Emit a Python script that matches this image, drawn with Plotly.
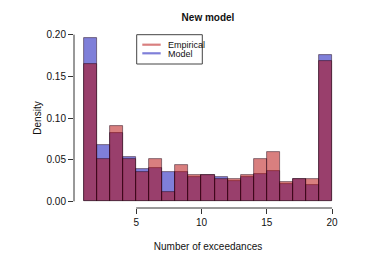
import plotly.graph_objects as go

# ---- data ----
breaks = list(range(1, 21))  # bin edges 1..20
empirical = [0.1645, 0.0507, 0.0902, 0.0507, 0.0355, 0.0511, 0.0116, 0.0431, 0.0319,
             0.0315, 0.0271, 0.0267, 0.0315, 0.0507, 0.0587, 0.0236, 0.0263, 0.0271, 0.1685]
model = [0.1956, 0.0675, 0.0822, 0.0535, 0.0387, 0.0403, 0.0347, 0.0351, 0.0295,
         0.0320, 0.0295, 0.0244, 0.0291, 0.0327, 0.0367, 0.0212, 0.0267, 0.0192, 0.1752]
x_ticks = [5, 10, 15, 20]
y_ticks = [0.00, 0.05, 0.10, 0.15, 0.20]
y_tick_labels = ["0.00", "0.05", "0.10", "0.15", "0.20"]
series_names = ["Empirical", "Model"]

centers = [(a + b) / 2 for a, b in zip(breaks[:-1], breaks[1:])]
widths = [b - a for a, b in zip(breaks[:-1], breaks[1:])]

RED = "rgba(180,0,0,0.5)"
BLUE = "rgba(0,0,180,0.5)"
EDGE = "rgba(30,0,20,0.6)"
FONT = "Liberation Sans, Arial, Helvetica, sans-serif"

W, H = 374, 267
L, R, T, B = 74, 32, 28, 59
pw, ph = W - L - R, H - T - B

def px_x(px):
    return (px - L) / pw

def px_y(py):
    return (H - B - py) / ph

fig = go.Figure()
fig.add_trace(go.Bar(x=centers, y=model, width=widths, name=series_names[1],
                     marker=dict(color=BLUE, line=dict(color=EDGE, width=0.8)),
                     showlegend=False))
fig.add_trace(go.Bar(x=centers, y=empirical, width=widths, name=series_names[0],
                     marker=dict(color=RED, line=dict(color=EDGE, width=0.8)),
                     showlegend=False))

xr = [breaks[0] - 0.04 * (breaks[-1] - breaks[0]), breaks[-1] + 0.04 * (breaks[-1] - breaks[0])]
yr = [y_ticks[0] - 0.04 * (y_ticks[-1] - y_ticks[0]), y_ticks[-1] + 0.04 * (y_ticks[-1] - y_ticks[0])]

shapes = [
    # partial axis lines, R style
    dict(type="line", xref="x", yref="paper", x0=min(x_ticks), x1=max(x_ticks), y0=0, y1=0,
         line=dict(color="#333", width=1)),
    dict(type="line", xref="paper", yref="y", x0=0, x1=0, y0=min(y_ticks), y1=max(y_ticks),
         line=dict(color="#333", width=1)),
    # legend box
    dict(type="rect", xref="paper", yref="paper", x0=px_x(136.7), x1=px_x(202.3),
         y0=px_y(64), y1=px_y(34.7), line=dict(color="#444", width=1), fillcolor="white"),
    dict(type="line", xref="paper", yref="paper", x0=px_x(142.3), x1=px_x(160.7),
         y0=px_y(44.7), y1=px_y(44.7), line=dict(color=RED, width=2.2)),
    dict(type="line", xref="paper", yref="paper", x0=px_x(142.3), x1=px_x(160.7),
         y0=px_y(53.3), y1=px_y(53.3), line=dict(color=BLUE, width=2.2)),
]
annotations = [
    dict(text=series_names[0], xref="paper", yref="paper", x=px_x(165.5), y=px_y(44.5),
         xanchor="left", yanchor="middle", showarrow=False,
         font=dict(family=FONT, size=9, color="#111")),
    dict(text=series_names[1], xref="paper", yref="paper", x=px_x(165.5), y=px_y(53.8),
         xanchor="left", yanchor="middle", showarrow=False,
         font=dict(family=FONT, size=9, color="#111")),
]

fig.update_layout(
    width=W, height=H,
    margin=dict(l=L, r=R, t=T, b=B),
    paper_bgcolor="white", plot_bgcolor="white",
    barmode="overlay", bargap=0,
    font=dict(family=FONT, size=10, color="#111"),
    title=dict(text="<b>New model</b>", x=(L + px_x(208) * pw) / W, xanchor="center",
               y=1 - 17 / H, yanchor="middle", font=dict(size=10, family=FONT, color="#111")),
    showlegend=False,
    shapes=shapes,
    annotations=annotations,
    xaxis=dict(range=xr, tickvals=x_ticks, ticks="outside", ticklen=5, tickcolor="#333",
               showgrid=False, zeroline=False, showline=False,
               tickfont=dict(size=10), title=dict(text="Number of exceedances", standoff=15,
                                                  font=dict(size=10))),
    yaxis=dict(range=yr, tickvals=y_ticks, ticktext=y_tick_labels, ticks="outside", ticklen=5,
               tickcolor="#333", showgrid=False, zeroline=False, showline=False,
               tickfont=dict(size=10), title=dict(text="Density", standoff=3,
                                                  font=dict(size=10))),
)

fig.write_html("out.html", config={"displayModeBar": False},
               post_script="document.body.style.margin='0';")
